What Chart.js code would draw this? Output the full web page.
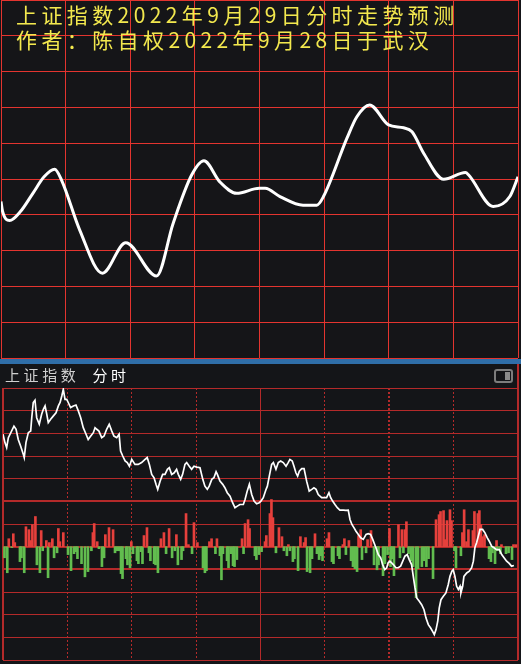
<!DOCTYPE html>
<html><head><meta charset="utf-8">
<script src="https://cdn.jsdelivr.net/npm/chart.js@4.4.1/dist/chart.umd.min.js"></script>
<style>
html,body{margin:0;padding:0;background:#141417;width:521px;height:664px;overflow:hidden;}
#wrap{position:relative;width:521px;height:664px;}
#topBox{position:absolute;left:0;top:0;width:521px;height:359px;background:#151518;}
#botBox{position:absolute;left:0;top:364px;width:521px;height:300px;background:#141518;}
#blue{position:absolute;left:0;top:359px;width:521px;height:5px;background:#2f6ea8;}
canvas{position:absolute;left:0;top:0;}
.title{position:absolute;left:16px;color:#f3e84e;font-family:"Noto Sans CJK SC";font-size:21px;letter-spacing:4.4px;line-height:21px;white-space:nowrap;}
#hdr{position:absolute;left:5px;top:366px;font-family:"Noto Sans CJK SC";font-size:15px;line-height:18px;letter-spacing:3.6px;color:#cfcfcf;white-space:nowrap;}
#hdr span{color:#ffffff;margin-left:13px;}
#icon{position:absolute;left:494px;top:369px;width:15px;height:10px;border:2px solid #7d7d7d;border-radius:3px;}
#icon div{position:absolute;right:1px;top:1px;width:5px;height:8px;background:#8a8a8a;}
#rline{position:absolute;left:517px;top:364px;width:2px;height:26px;background:#b52a2a;}
</style></head>
<body><div id="wrap">
<div id="topBox"><canvas id="topChart" width="521" height="359"></canvas></div>
<div class="title" style="top:4px">上证指数2022年9月29日分时走势预测</div>
<div class="title" style="top:29px">作者：陈自权2022年9月28日于武汉</div>
<div id="blue"></div>
<div id="botBox"><canvas id="botChart" width="521" height="300"></canvas></div>
<div id="hdr">上证指数<span>分时</span></div>
<div id="icon"><div></div></div>
<div id="rline"></div>
</div>
<script>
// ---- top panel: forecast curve (minutes of trading day, value in grid units) ----
const forecastMin = [0,0.7,4,9,14.8,20,24.9,28.1,36.5,47.1,57.9,72.2,79.9,88.5,94.2,101.6,109.4,119.9,122.6,129.5,140.2,146.6,149.7,160.6,165.2,171.1,179.9,186.9,190.8,196.2,205.5,215.6,217.1,228.5,236.2,240];
const forecastVal = [4.37,4.10,3.84,4.09,4.60,5.06,5.27,4.97,3.58,2.37,3.22,2.29,3.76,5.11,5.51,4.92,4.60,4.74,4.74,4.51,4.27,4.27,4.51,6.14,6.74,7.07,6.51,6.43,6.32,5.72,4.99,5.18,5.11,4.23,4.51,5.06];

// ---- bottom panel: intraday price line ----
const priceMin = [0,0.9,1.7,2.5,5.1,6.1,7.1,8.2,9.5,9.9,10.7,11.8,12.9,13.4,14.1,14.9,15.7,16.9,18.0,18.8,19.6,20.4,21.1,22.2,23.4,24.7,25.8,26.6,27.4,28.1,28.9,29.7,30.4,31.5,32.8,34.0,35.1,36.2,37.4,38.7,39.7,40.9,42.1,42.9,43.7,44.7,46.0,47.1,48.3,49.5,50.7,51.7,53.0,54.1,54.8,55.8,56.9,57.9,58.9,60.0,61.5,63.0,64.6,66.2,67.2,68.2,69.3,70.4,71.3,72.1,73.2,74.4,75.5,76.6,77.5,78.6,79.8,80.9,81.7,82.8,83.7,84.8,85.6,86.8,87.9,89.0,90.3,91.8,93.1,94.1,95.2,96.1,97.3,98.3,99.3,99.9,101.1,102.4,103.4,104.5,105.8,107.0,108.1,109.2,110.4,112.0,112.8,113.8,114.8,115.9,117.0,118.2,119.4,120.2,121.3,122.6,123.2,124.1,125.2,126.0,127.2,128.3,129.4,130.6,131.9,132.9,133.7,134.8,135.6,136.5,137.3,138.1,139.2,140.3,141.5,142.7,143.9,144.9,145.9,146.9,148.5,150.8,151.9,152.7,153.6,154.7,155.8,157.0,158.6,159.8,160.9,161.7,162.6,163.6,164.5,165.6,166.7,167.9,169.2,170.2,171.3,172.3,172.9,173.8,174.9,176.0,176.9,177.9,178.8,179.5,180.3,181.1,181.9,183.1,184.2,185.3,186.3,187.3,188.4,189.3,190.4,191.2,192.0,192.8,194.0,195.1,196.2,197.1,198.2,199.3,200.2,201.0,201.8,202.6,203.3,204.1,205.2,206.4,207.5,208.3,209.2,209.8,210.6,211.4,212.2,213.0,213.4,214.2,214.8,216.1,217.3,218.4,219.2,219.9,220.7,221.5,222.3,223.5,224.6,225.7,226.6,227.7,228.8,230.0,231.3,232.4,233.5,234.7,235.9,237.0,238.1];
const priceVal = [9.96,9.59,9.37,9.81,10.32,10.18,9.73,9.44,9.07,8.93,9.59,10.03,10.10,10.69,11.36,11.46,10.69,10.40,10.84,11.06,11.21,10.84,10.47,10.62,10.76,10.91,11.21,11.36,11.65,11.94,11.50,11.50,11.36,11.14,11.21,11.25,10.99,10.69,10.25,9.96,9.73,9.88,10.03,10.25,10.18,10.10,9.81,9.88,10.18,10.40,10.10,9.88,9.81,9.96,9.22,9.00,8.78,8.71,8.55,8.85,8.63,8.63,8.71,8.85,8.93,8.63,8.19,8.04,7.75,7.53,7.89,8.19,8.19,8.41,8.48,8.19,8.26,8.41,8.19,7.97,8.19,8.63,8.71,8.55,8.41,8.55,8.51,8.48,7.97,7.67,7.53,7.67,7.97,8.04,8.31,8.19,7.89,7.75,7.60,7.38,7.23,6.94,6.72,6.79,6.86,6.86,7.08,7.45,7.75,7.30,7.01,6.89,6.94,7.01,7.16,7.53,7.67,8.11,8.63,8.71,8.41,8.71,8.78,8.71,8.55,8.71,8.85,8.78,8.55,8.26,8.11,8.33,8.44,8.44,7.89,7.45,7.53,7.60,7.53,7.30,7.16,7.16,7.38,7.16,7.01,6.86,6.72,6.61,6.61,6.60,6.61,6.20,5.98,5.83,5.68,5.54,5.39,5.32,5.54,5.57,5.54,5.32,5.17,4.95,4.65,4.51,4.21,3.99,4.07,4.29,4.36,4.29,4.21,4.07,4.07,4.14,4.36,4.58,4.65,4.43,4.21,3.69,3.18,2.74,2.59,2.44,2.22,1.86,1.56,1.41,1.26,1.12,1.34,1.71,2.30,2.66,2.81,2.96,3.33,3.69,3.92,3.99,3.69,3.25,3.11,3.25,2.96,3.25,3.69,3.84,3.92,4.07,4.36,4.95,5.17,5.46,5.76,5.76,5.61,5.39,5.24,5.02,4.95,4.87,4.87,4.65,4.51,4.36,4.26,4.14,4.17];

// ---- bottom panel: red/green indicator bars ----
const barMin = [0.7,2.0,2.7,4.1,4.8,5.5,7.9,8.6,9.9,10.7,12.1,13.0,13.7,15.1,15.8,17.2,17.8,18.5,20.2,21.0,21.6,23.0,23.8,25.2,25.8,26.5,28.1,30.3,31.7,33.1,34.0,34.7,36.6,38.2,39.6,41.2,41.9,42.5,43.9,44.7,46.1,47.1,47.7,49.4,51.3,52.2,53.1,54.1,55.0,55.7,57.3,58.0,59.2,59.8,60.6,62.4,63.1,64.3,65.0,65.7,67.1,68.0,68.7,70.4,71.1,72.2,73.6,75.0,76.0,77.4,78.8,80.1,80.8,81.5,83.2,83.9,85.3,86.4,88.1,89.0,90.6,93.2,94.1,94.8,96.2,97.2,99.0,99.7,101.1,101.8,102.5,104.4,105.1,106.2,107.2,107.9,109.0,111.4,112.1,112.8,114.2,114.9,117.4,118.1,119.3,120.5,122.1,122.7,124.4,125.1,125.8,127.2,128.6,130.0,130.9,132.3,133.0,133.7,135.1,135.8,137.5,138.6,140.3,141.0,141.7,143.1,144.0,145.4,146.3,147.3,148.2,148.9,151.0,151.9,153.3,154.0,156.1,156.8,158.4,159.1,159.8,161.2,162.2,163.1,164.0,165.0,165.7,166.7,167.3,169.2,169.9,171.5,172.9,174.3,175.0,177.1,178.0,179.2,180.1,180.6,181.3,182.2,184.3,185.0,185.9,186.6,187.3,188.0,189.0,190.1,191.1,192.5,193.4,195.2,196.2,197.3,198.3,200.4,201.8,203.2,203.9,205.3,206.0,206.9,208.3,209.0,210.4,211.1,213.4,214.1,214.9,216.0,216.9,219.0,219.7,221.3,222.0,222.7,223.4,224.4,226.5,227.4,228.1,229.3,230.0,230.4,231.8,232.3,234.4,235.6,237.2,237.9,239.0];
const barVal = [-4.9,-11.5,3.5,-0.4,5.7,1.8,-6.6,-4.9,-11.5,8.8,7.5,2.7,9.7,13.3,-8.0,-11.5,7.1,-1.8,2.7,-13.7,1.8,3.5,-4.9,-2.7,8.0,2.2,6.2,-3.5,-10.6,-3.1,-2.2,-5.3,-7.5,-13.3,-11.0,-1.8,6.2,10.2,2.2,-0.9,-8.8,-4.9,5.3,8.4,7.5,-2.7,-1.8,-1.8,-11.9,-14.1,-5.3,-8.0,-9.3,2.2,-3.1,-6.2,-7.5,-2.2,-7.5,4.9,8.4,-2.7,-6.2,-7.5,-8.0,-11.5,3.5,6.2,-3.1,8.0,-4.9,-1.8,5.3,-8.0,-5.7,-1.8,14.6,0.9,-3.1,10.6,1.8,-9.3,-11.5,-10.6,2.2,3.5,-3.1,3.5,-4.0,-14.6,-3.1,-6.2,-9.3,-3.1,-8.4,-8.8,-5.7,3.5,-3.1,10.2,11.9,8.0,-4.0,-5.7,-3.5,-2.2,2.2,4.9,14.6,20.8,12.8,-2.7,8.4,4.4,-1.8,-4.0,0.9,-1.8,-6.6,-5.3,-10.6,4.4,1.8,4.0,-11.0,-11.5,-5.3,5.7,-3.1,-5.7,-4.0,-6.2,3.5,6.2,-6.6,-7.5,-4.0,-5.3,0.9,3.5,-3.5,2.7,-6.2,-8.8,-9.7,-11.0,4.9,7.5,-5.7,-2.7,3.1,7.1,-8.0,-10.2,-8.0,-12.8,-7.5,-3.5,8.0,-8.8,-5.3,-12.8,9.7,-4.9,7.5,-2.7,7.5,11.0,-3.1,-6.2,-8.8,-22.5,-9.7,-8.8,-6.2,-8.8,-5.3,-14.1,11.9,14.1,15.5,15.9,3.1,11.5,16.3,11.5,-1.8,-9.3,-4.0,6.2,16.3,2.2,7.5,7.1,15.5,14.6,15.9,9.7,4.4,5.3,-5.3,-6.6,-2.7,-7.5,2.7,-1.8,-3.1,0.9,-3.1,-2.7,-5.7,0.9,0.9];

const TOP_GRID = '#e3342f';
const BOT_GRID = '#b42a2a';
const UP = '#e6403c';
const DOWN = '#62bd4f';

const zip = (xs, ys) => xs.map((x, i) => ({x: x, y: ys[i]}));

new Chart(document.getElementById('topChart'), {
  type: 'line',
  data: { datasets: [{
    data: zip(forecastMin, forecastVal),
    borderColor: '#ffffff', borderWidth: 3, pointRadius: 0,
    cubicInterpolationMode: 'monotone', fill: false
  }]},
  options: {
    responsive: false, animation: false, devicePixelRatio: 1,
    layout: { padding: { left: 1, right: 3, top: 0, bottom: 1 } },
    plugins: { legend: { display: false }, tooltip: { enabled: false } },
    scales: {
      x: { type: 'linear', min: 0, max: 240, offset: false,
           ticks: { display: false, stepSize: 30 },
           grid: { color: TOP_GRID, lineWidth: 1, drawTicks: false, offset: false },
           border: { display: false } },
      y: { type: 'linear', min: 0, max: 10,
           ticks: { display: false, stepSize: 1 },
           grid: { color: TOP_GRID, lineWidth: 1, drawTicks: false },
           border: { display: false } }
    }
  }
});

new Chart(document.getElementById('botChart'), {
  type: 'line',
  data: { datasets: [
    { type: 'line', data: zip(priceMin, priceVal), yAxisID: 'y',
      borderColor: '#ffffff', borderWidth: 1.7, pointRadius: 0, tension: 0, fill: false, order: 0 },
    { type: 'bar', data: zip(barMin, barVal), yAxisID: 'yb',
      backgroundColor: ctx => (ctx.raw && ctx.raw.y >= 0) ? UP : DOWN,
      barThickness: 2, grouped: false, order: 1 }
  ]},
  options: {
    responsive: false, animation: false, devicePixelRatio: 1,
    layout: { padding: { left: 3, right: 3, top: 24, bottom: 4 } },
    plugins: { legend: { display: false }, tooltip: { enabled: false } },
    scales: {
      x: { type: 'linear', min: 0, max: 240, offset: false,
           ticks: { display: false, stepSize: 30 },
           grid: { color: BOT_GRID, drawTicks: false, offset: false,
                   lineWidth: c => (c.index === 0 || c.index === 8 || c.index === 6) ? 2 : 1 },
           border: { display: false,
                     dash: c => (c.index === 0 || c.index === 4 || c.index === 8) ? [] : [2, 2] } },
      y: { type: 'linear', min: 0, max: 12,
           ticks: { display: false, stepSize: 1 },
           grid: { color: BOT_GRID, drawTicks: false,
                   lineWidth: c => (c.tick && [4, 5, 7].includes(c.tick.value)) ? 2 : 1 },
           border: { display: false } },
      yb: { type: 'linear', min: -50, max: 70, display: false }
    }
  }
});
</script>
</body></html>
